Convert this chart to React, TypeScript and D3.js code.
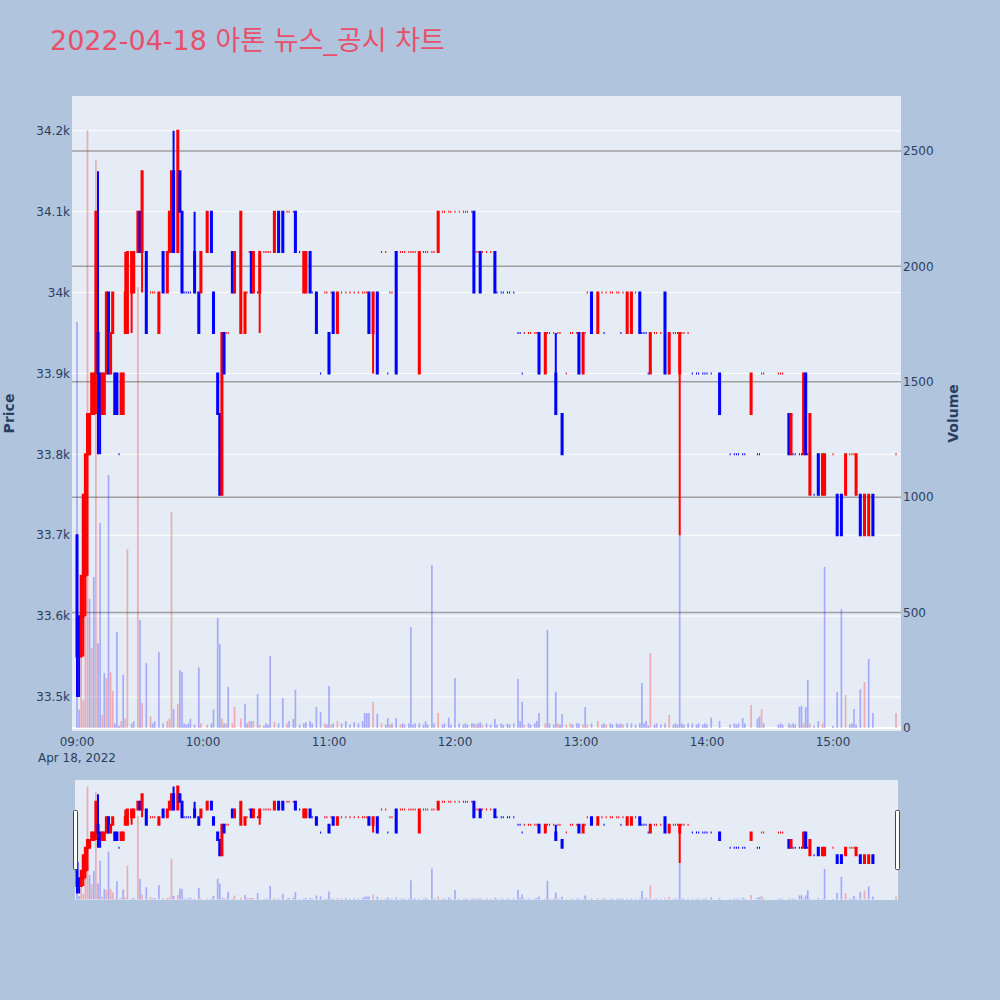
import React from "react";
import * as d3 from "d3";

// ---- chart text ----
const chartTitle = "2022-04-18 아톤 뉴스_공시 차트";
const sessionDate = "Apr 18, 2022";
const hourLabels = ["09:00", "10:00", "11:00", "12:00", "13:00", "14:00", "15:00"];
const hourOffsets = [0, 60, 120, 180, 240, 300, 360];
const priceTicks = [33500, 33600, 33700, 33800, 33900, 34000, 34100, 34200];
const volumeTicks = [0, 500, 1000, 1500, 2000, 2500];

// ---- one-minute bars (minutes after 09:00) ----
const minutes = [
  0, 1, 2, 3, 4, 5, 6, 7, 8, 9,
  10, 11, 12, 13, 14, 15, 16, 17, 18, 19,
  20, 21, 22, 23, 24, 26, 27, 29, 30, 31,
  33, 35, 36, 37, 39, 41, 43, 44, 45, 46,
  48, 49, 50, 51, 52, 53, 54, 56, 58, 59,
  62, 64, 65, 67, 68, 69, 70, 71, 72, 74,
  75, 78, 80, 81, 82, 83, 84, 86, 87, 89,
  90, 91, 92, 94, 96, 98, 100, 101, 103, 104,
  106, 108, 109, 111, 112, 114, 116, 118, 119, 120,
  121, 122, 124, 126, 128, 130, 132, 134, 136, 137,
  138, 139, 141, 143, 145, 147, 148, 149, 150, 152,
  154, 155, 156, 158, 159, 160, 161, 163, 165, 166,
  167, 169, 170, 172, 174, 175, 177, 178, 180, 182,
  184, 185, 186, 188, 189, 190, 191, 192, 193, 195,
  197, 199, 200, 202, 203, 205, 206, 208, 210, 211,
  212, 213, 215, 216, 218, 219, 220, 223, 224, 225,
  227, 228, 229, 230, 231, 233, 235, 236, 238, 239,
  241, 242, 243, 245, 248, 250, 251, 252, 254, 255,
  257, 258, 259, 260, 262, 264, 266, 268, 269, 270,
  271, 272, 273, 275, 276, 278, 280, 282, 284, 285,
  286, 287, 288, 289, 291, 293, 295, 296, 298, 299,
  300, 302, 306, 311, 313, 314, 315, 317, 318, 321,
  324, 325, 326, 327, 334, 335, 336, 339, 340, 341,
  342, 344, 345, 346, 347, 348, 349, 351, 353, 355,
  356, 360, 362, 364, 366, 368, 369, 370, 371, 373,
  375, 377, 379, 390,
];

const opens = [
  33700, 33600, 33550, 33600, 33650, 33800, 33800, 33850, 33850, 33900,
  33950, 33900, 33850, 33850, 33900, 34000, 33900, 33950, 33900, 33900,
  33800, 33850, 33850, 33950, 33950, 34000, 34000, 34050, 34100, 34050,
  34050, 34000, 34000, 34000, 33950, 34050, 34000, 34050, 34050, 34150,
  34050, 34150, 34100, 34000, 34000, 34000, 34000, 34050, 34000, 34000,
  34050, 34100, 34000, 33900, 33850, 33750, 33950, 33950, 33950, 34050,
  34000, 33950, 33950, 34000, 34050, 34050, 34000, 34000, 34000, 34050,
  34050, 34050, 34050, 34050, 34100, 34100, 34100, 34100, 34100, 34100,
  34050, 34000, 34000, 34050, 34000, 34000, 33900, 34000, 34000, 33950,
  34000, 34000, 33950, 34000, 34000, 34000, 34000, 34000, 34000, 34000,
  34000, 34000, 33950, 34000, 34050, 34050, 33900, 34000, 34000, 34050,
  34050, 34050, 34050, 34050, 34050, 34050, 34050, 33900, 34050, 34050,
  34050, 34050, 34050, 34050, 34100, 34100, 34100, 34100, 34100, 34100,
  34100, 34100, 34100, 34100, 34100, 34050, 34050, 34050, 34050, 34050,
  34050, 34050, 34000, 34000, 34000, 34000, 34000, 34000, 33950, 33950,
  33900, 33950, 33950, 33950, 33950, 33950, 33950, 33900, 33950, 33950,
  33950, 33900, 33950, 33950, 33850, 33900, 33950, 33950, 33950, 33950,
  33900, 33950, 34000, 34000, 33950, 34000, 33950, 34000, 34000, 34000,
  34000, 34000, 33950, 34000, 33950, 33950, 34000, 34000, 33950, 33950,
  33950, 33900, 33900, 33950, 33950, 33950, 34000, 33900, 33950, 33950,
  33950, 33900, 33950, 33950, 33950, 33900, 33900, 33900, 33900, 33900,
  33900, 33900, 33900, 33800, 33800, 33800, 33800, 33800, 33800, 33850,
  33800, 33800, 33900, 33900, 33900, 33900, 33900, 33850, 33800, 33800,
  33800, 33800, 33800, 33800, 33900, 33800, 33750, 33750, 33800, 33750,
  33750, 33800, 33750, 33750, 33750, 33800, 33800, 33800, 33750, 33750,
  33700, 33700, 33750, 33800,
];

const highs = [
  33700, 33600, 33650, 33750, 33800, 33850, 33850, 33900, 33900, 34100,
  34150, 33900, 33900, 33900, 34000, 34000, 33950, 34000, 33900, 33900,
  33800, 33900, 33900, 34050, 34050, 34050, 34050, 34100, 34100, 34150,
  34050, 34000, 34000, 34000, 34000, 34050, 34050, 34100, 34150, 34200,
  34200, 34150, 34100, 34000, 34000, 34000, 34000, 34100, 34000, 34050,
  34100, 34100, 34000, 33900, 33850, 33950, 33950, 33950, 33950, 34050,
  34050, 34100, 34000, 34000, 34050, 34050, 34050, 34000, 34050, 34050,
  34050, 34050, 34050, 34100, 34100, 34100, 34100, 34100, 34100, 34100,
  34050, 34050, 34050, 34050, 34000, 34000, 33900, 34000, 34000, 33950,
  34000, 34000, 34000, 34000, 34000, 34000, 34000, 34000, 34000, 34000,
  34000, 34000, 34000, 34000, 34050, 34050, 33900, 34000, 34000, 34050,
  34050, 34050, 34050, 34050, 34050, 34050, 34050, 34050, 34050, 34050,
  34050, 34050, 34050, 34100, 34100, 34100, 34100, 34100, 34100, 34100,
  34100, 34100, 34100, 34100, 34100, 34050, 34050, 34050, 34050, 34050,
  34050, 34050, 34000, 34000, 34000, 34000, 34000, 34000, 33950, 33950,
  33900, 33950, 33950, 33950, 33950, 33950, 33950, 33950, 33950, 33950,
  33950, 33950, 33950, 33950, 33850, 33900, 33950, 33950, 33950, 33950,
  33950, 33950, 34000, 34000, 34000, 34000, 33950, 34000, 34000, 34000,
  34000, 34000, 33950, 34000, 34000, 34000, 34000, 34000, 33950, 33950,
  33950, 33900, 33950, 33950, 33950, 33950, 34000, 33950, 33950, 33950,
  33950, 33950, 33950, 33950, 33950, 33900, 33900, 33900, 33900, 33900,
  33900, 33900, 33900, 33800, 33800, 33800, 33800, 33800, 33800, 33900,
  33800, 33800, 33900, 33900, 33900, 33900, 33900, 33850, 33850, 33800,
  33800, 33800, 33800, 33900, 33900, 33800, 33850, 33750, 33800, 33800,
  33800, 33800, 33750, 33750, 33800, 33800, 33800, 33800, 33800, 33750,
  33750, 33750, 33750, 33800,
];

const lows = [
  33500, 33500, 33550, 33550, 33600, 33650, 33800, 33850, 33850, 33850,
  33800, 33800, 33850, 33850, 33900, 33900, 33900, 33950, 33850, 33850,
  33800, 33850, 33850, 33950, 33950, 33950, 34000, 34050, 34050, 34000,
  33950, 34000, 34000, 34000, 33950, 34000, 34000, 34050, 34050, 34050,
  34050, 34100, 34000, 34000, 34000, 34000, 34000, 34000, 33950, 34000,
  34050, 34050, 33950, 33850, 33750, 33750, 33900, 33950, 33950, 34000,
  34000, 33950, 33950, 34000, 34050, 34000, 34000, 34000, 33950, 34050,
  34050, 34050, 34050, 34050, 34050, 34050, 34100, 34100, 34100, 34050,
  34050, 34000, 34000, 34000, 34000, 33950, 33900, 34000, 34000, 33900,
  34000, 33950, 33950, 34000, 34000, 34000, 34000, 34000, 34000, 34000,
  34000, 33950, 33900, 33900, 34050, 34050, 33900, 34000, 34000, 33900,
  34050, 34050, 34050, 34050, 34050, 34050, 34050, 33900, 34050, 34050,
  34050, 34050, 34050, 34050, 34100, 34100, 34100, 34100, 34100, 34100,
  34100, 34100, 34100, 34100, 34000, 34050, 34050, 34000, 34050, 34050,
  34050, 34000, 34000, 34000, 34000, 34000, 34000, 34000, 33950, 33950,
  33900, 33950, 33950, 33950, 33950, 33950, 33900, 33900, 33950, 33950,
  33950, 33850, 33950, 33950, 33800, 33900, 33950, 33950, 33950, 33900,
  33900, 33950, 34000, 33950, 33950, 34000, 33950, 34000, 34000, 34000,
  34000, 34000, 33950, 34000, 33950, 33950, 34000, 33950, 33950, 33950,
  33950, 33900, 33900, 33950, 33950, 33950, 33900, 33900, 33950, 33950,
  33950, 33700, 33950, 33950, 33950, 33900, 33900, 33900, 33900, 33900,
  33900, 33900, 33850, 33800, 33800, 33800, 33800, 33800, 33800, 33850,
  33800, 33800, 33900, 33900, 33900, 33900, 33900, 33800, 33800, 33800,
  33800, 33800, 33800, 33800, 33800, 33800, 33750, 33750, 33750, 33750,
  33750, 33800, 33700, 33700, 33750, 33800, 33800, 33800, 33750, 33700,
  33700, 33700, 33700, 33800,
];

const closes = [
  33550, 33550, 33650, 33750, 33800, 33850, 33850, 33900, 33900, 34100,
  33900, 33850, 33900, 33900, 34000, 33900, 33950, 34000, 33850, 33850,
  33800, 33900, 33900, 34000, 34050, 34050, 34050, 34100, 34050, 34150,
  33950, 34000, 34000, 34000, 34000, 34000, 34050, 34100, 34150, 34050,
  34200, 34100, 34000, 34000, 34000, 34000, 34000, 34000, 33950, 34050,
  34100, 34050, 33950, 33850, 33750, 33950, 33900, 33950, 33950, 34000,
  34050, 34100, 34000, 34000, 34050, 34000, 34050, 34000, 34050, 34050,
  34050, 34050, 34050, 34100, 34050, 34050, 34100, 34100, 34100, 34050,
  34050, 34050, 34050, 34000, 34000, 33950, 33900, 34000, 34000, 33900,
  34000, 33950, 34000, 34000, 34000, 34000, 34000, 34000, 34000, 34000,
  34000, 33950, 34000, 33900, 34050, 34050, 33900, 34000, 34000, 33900,
  34050, 34050, 34050, 34050, 34050, 34050, 34050, 34050, 34050, 34050,
  34050, 34050, 34050, 34100, 34100, 34100, 34100, 34100, 34100, 34100,
  34100, 34100, 34100, 34100, 34000, 34050, 34050, 34000, 34050, 34050,
  34050, 34000, 34000, 34000, 34000, 34000, 34000, 34000, 33950, 33950,
  33900, 33950, 33950, 33950, 33950, 33950, 33900, 33950, 33950, 33950,
  33950, 33850, 33950, 33950, 33800, 33900, 33950, 33950, 33950, 33900,
  33950, 33950, 34000, 33950, 34000, 34000, 33950, 34000, 34000, 34000,
  34000, 34000, 33950, 34000, 34000, 34000, 34000, 33950, 33950, 33950,
  33950, 33900, 33950, 33950, 33950, 33950, 33900, 33950, 33950, 33950,
  33950, 33950, 33950, 33950, 33950, 33900, 33900, 33900, 33900, 33900,
  33900, 33900, 33850, 33800, 33800, 33800, 33800, 33800, 33800, 33900,
  33800, 33800, 33900, 33900, 33900, 33900, 33900, 33800, 33850, 33800,
  33800, 33800, 33800, 33900, 33800, 33800, 33850, 33750, 33750, 33800,
  33800, 33800, 33700, 33700, 33800, 33800, 33800, 33800, 33800, 33700,
  33750, 33750, 33700, 33800,
];

const volumes = [
  1760, 80, 350, 120, 770, 2590, 560, 347, 654, 2460,
  367, 888, 56, 238, 216, 1096, 242, 160, 20, 416,
  10, 30, 230, 40, 775, 20, 30, 1910, 468, 108,
  281, 50, 20, 30, 329, 20, 30, 40, 936, 82,
  104, 251, 243, 20, 15, 20, 40, 15, 262, 20,
  15, 20, 80, 476, 364, 40, 20, 20, 178, 20,
  91, 40, 105, 20, 30, 30, 30, 147, 15, 10,
  20, 15, 312, 27, 20, 130, 20, 30, 39, 165,
  15, 20, 25, 30, 20, 91, 70, 20, 15, 182,
  15, 20, 30, 20, 30, 15, 25, 20, 30, 65,
  65, 65, 112, 62, 20, 15, 43, 15, 20, 43,
  15, 20, 15, 20, 437, 15, 20, 20, 15, 30,
  15, 706, 20, 65, 15, 20, 45, 15, 216, 20,
  15, 20, 15, 20, 20, 15, 20, 25, 15, 20,
  15, 39, 15, 20, 15, 20, 15, 20, 212, 30,
  113, 15, 20, 15, 20, 30, 65, 20, 425, 20,
  15, 157, 20, 15, 60, 15, 20, 15, 20, 20,
  15, 91, 15, 20, 30, 15, 20, 15, 20, 15,
  20, 15, 20, 15, 20, 20, 15, 20, 195, 20,
  30, 10, 325, 15, 20, 15, 20, 56, 15, 20,
  15, 836, 20, 15, 20, 20, 15, 20, 15, 20,
  15, 45, 30, 15, 20, 15, 20, 43, 20, 100,
  40, 50, 82, 20, 15, 20, 15, 20, 15, 20,
  15, 92, 96, 20, 90, 208, 20, 10, 30, 20,
  698, 10, 156, 516, 143, 15, 20, 82, 15, 167,
  199, 299, 65, 65,
];

// ---- layout ----
const PAGE_BG = "#b0c4de";
const PLOT_BG = "#e5ecf6";
const TEXT = "#2a3f5f";
const FONT = "'DejaVu Sans', Verdana, sans-serif";
const UP = "#ff0000";
const DOWN = "#0000ff";

const plotBox = { left: 72, right: 901, top: 96, bottom: 731 };
const sliderBox = { left: 75, right: 898, top: 780, bottom: 900 };

type Bar = {
  m: number; o: number; h: number; l: number; c: number; v: number;
  up: boolean; volUp: boolean;
};

// Candle colour: close vs open; unchanged bars follow the previous close.
// Volume colour: close vs the previous bar's close.
function buildBars(): Bar[] {
  let prevClose: number | null = null;
  let prevUp = false;
  return minutes.map((m, i) => {
    const o = opens[i], h = highs[i], l = lows[i], c = closes[i];
    let up: boolean;
    if (c > o) up = true;
    else if (c < o) up = false;
    else if (prevClose === null || c === prevClose) up = prevUp;
    else up = c > prevClose;
    const volUp = prevClose !== null && c > prevClose;
    prevClose = c;
    prevUp = up;
    return { m, o, h, l, c, v: volumes[i], up, volUp };
  });
}

const bars = buildBars();

function Traces({ x, yP, yV, boxHalf, barW, lineW }: {
  x: d3.ScaleLinear<number, number>;
  yP: d3.ScaleLinear<number, number>;
  yV: d3.ScaleLinear<number, number>;
  boxHalf: number; barW: number; lineW: number;
}) {
  return (
    <g>
      {bars.map((d, i) => {
        const cx = x(d.m);
        const yo = yP(d.o), yc = yP(d.c);
        const top = Math.min(yo, yc), bot = Math.max(yo, yc);
        const p =
          `M${cx - boxHalf},${top}H${cx + boxHalf}V${bot}H${cx - boxHalf}Z` +
          `M${cx},${top}V${yP(d.h)}M${cx},${bot}V${yP(d.l)}`;
        const col = d.up ? UP : DOWN;
        return (
          <path key={"c" + i} d={p} stroke={col} strokeWidth={lineW}
            fill={col} fillOpacity={0.5} />
        );
      })}
      {bars.map((d, i) => (
        <rect key={"v" + i} x={x(d.m) - barW / 2} y={yV(d.v)} width={barW}
          height={Math.max(0, yV(0) - yV(d.v))}
          fill={d.volUp ? UP : DOWN} fillOpacity={0.28} />
      ))}
    </g>
  );
}

export default function App() {
  const minuteDomain: [number, number] = [-2.38, 392.38];
  const x = d3.scaleLinear().domain(minuteDomain).range([plotBox.left, plotBox.right]);
  const yP = d3.scaleLinear().domain([33458, 34243]).range([plotBox.bottom, plotBox.top]);
  const yV = d3.scaleLinear().domain([-13, 2738]).range([plotBox.bottom, plotBox.top]);

  const xs = d3.scaleLinear().domain(minuteDomain).range([plotBox.left, plotBox.right]);
  const yPs = d3.scaleLinear().domain([33458, 34243]).range([sliderBox.bottom, sliderBox.top]);
  const yVs = d3.scaleLinear().domain([-13, 2738]).range([sliderBox.bottom, sliderBox.top]);

  const fmtPrice = d3.format("~s");
  const step = x(1) - x(0);

  return (
    <svg width={1000} height={1000} style={{ display: "block", position: "absolute", left: 0, top: 0 }}>
      <defs>
        <clipPath id="plotClip">
          <rect x={plotBox.left} y={plotBox.top} width={plotBox.right - plotBox.left}
            height={plotBox.bottom - plotBox.top} />
        </clipPath>
        <clipPath id="sliderClip">
          <rect x={sliderBox.left} y={sliderBox.top} width={sliderBox.right - sliderBox.left}
            height={sliderBox.bottom - sliderBox.top} />
        </clipPath>
      </defs>
      <rect x={0} y={0} width={1000} height={1000} fill={PAGE_BG} />

      <text x={50} y={50} fill="#e8506a" fontSize={27}
        fontFamily={"'DejaVu Sans', 'Noto Sans CJK KR', sans-serif"}>{chartTitle}</text>

      {/* main plot */}
      <rect x={plotBox.left} y={plotBox.top} width={plotBox.right - plotBox.left}
        height={plotBox.bottom - plotBox.top} fill={PLOT_BG} />
      <g clipPath="url(#plotClip)">
        {priceTicks.map((t) => (
          <line key={"pg" + t} x1={plotBox.left} x2={plotBox.right} y1={yP(t)} y2={yP(t)}
            stroke="#ffffff" strokeWidth={1} />
        ))}
        {volumeTicks.filter((t) => t > 0).map((t) => (
          <line key={"vg" + t} x1={plotBox.left} x2={plotBox.right} y1={yV(t)} y2={yV(t)}
            stroke="#a0a0a0" strokeWidth={1.5} />
        ))}
        <line x1={plotBox.left} x2={plotBox.right} y1={yV(0)} y2={yV(0)} stroke="#ffffff" strokeWidth={2} />
        <Traces x={x} yP={yP} yV={yV} boxHalf={step * 0.25} barW={step * 0.8} lineW={2} />
      </g>

      {/* price axis */}
      {priceTicks.map((t) => (
        <text key={"pt" + t} x={plotBox.left - 2} y={yP(t)} dy="0.35em" textAnchor="end"
          fontSize={12} fontFamily={FONT} fill={TEXT}>{fmtPrice(t)}</text>
      ))}
      <text transform={`translate(14,${(plotBox.top + plotBox.bottom) / 2}) rotate(-90)`}
        textAnchor="middle" fontSize={14} fontWeight="bold" fontFamily={FONT} fill={TEXT}>Price</text>

      {/* volume axis */}
      {volumeTicks.map((t) => (
        <text key={"vt" + t} x={plotBox.right + 2} y={yV(t)} dy="0.35em" textAnchor="start"
          fontSize={12} fontFamily={FONT} fill={TEXT}>{t}</text>
      ))}
      <text transform={`translate(958,${(plotBox.top + plotBox.bottom) / 2}) rotate(-90)`}
        textAnchor="middle" fontSize={14} fontWeight="bold" fontFamily={FONT} fill={TEXT}>Volume</text>

      {/* time axis */}
      {hourLabels.map((lab, i) => (
        <text key={"ht" + lab} x={x(hourOffsets[i])} y={746} textAnchor="middle"
          fontSize={12} fontFamily={FONT} fill={TEXT}>{lab}</text>
      ))}
      <text x={x(0)} y={762} textAnchor="middle" fontSize={12} fontFamily={FONT} fill={TEXT}>{sessionDate}</text>

      {/* range slider */}
      <rect x={sliderBox.left} y={sliderBox.top} width={sliderBox.right - sliderBox.left}
        height={sliderBox.bottom - sliderBox.top} fill={PLOT_BG} />
      <g clipPath="url(#sliderClip)">
        <Traces x={xs} yP={yPs} yV={yVs} boxHalf={step * 0.25} barW={step * 0.8} lineW={2} />
      </g>
      <rect x={73.5} y={810.5} width={4} height={59} fill="#ffffff" stroke="#444" strokeWidth={1} rx={1} />
      <rect x={895.5} y={810.5} width={4} height={59} fill="#ffffff" stroke="#444" strokeWidth={1} rx={1} />
    </svg>
  );
}
